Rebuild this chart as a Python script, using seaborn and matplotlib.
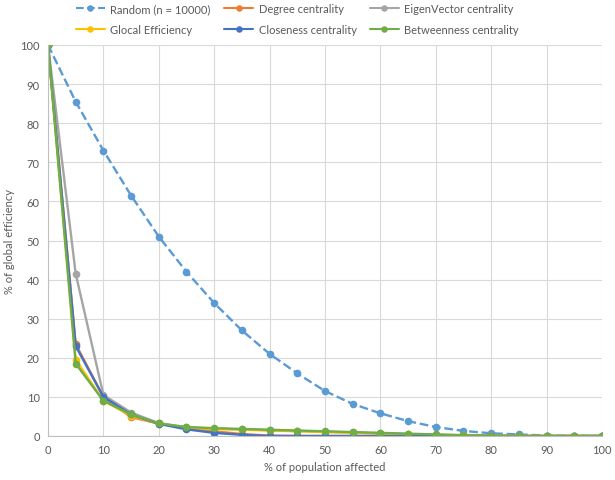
import matplotlib.pyplot as plt
import seaborn as sns
import pandas as pd
import numpy as np

pct_affected = list(range(0, 101, 5))

random_eff = [100, 85.5, 73, 61.5, 51, 42, 34, 27, 21, 16, 11.5, 8.2, 5.8, 3.8, 2.3, 1.3, 0.7, 0.4, 0.1, 0.05, 0]
degree_eff = [100, 23.5, 10, 4.8, 3.2, 2.0, 1.2, 0.5, 0.1, 0, 0, 0, 0, 0, 0, 0, 0, 0, 0, 0, 0]
eigen_eff = [100, 41.5, 10.5, 6, 3.3, 2.2, 1.9, 1.7, 1.5, 1.3, 1.1, 0.9, 0.7, 0.5, 0.3, 0.2, 0.1, 0, 0, 0, 0]
glocal_eff = [100, 19.5, 9, 5.2, 3.1, 2.1, 1.8, 1.6, 1.4, 1.2, 1.0, 0.8, 0.6, 0.4, 0.3, 0.2, 0.1, 0, 0, 0, 0]
closeness_eff = [100, 23, 10, 5.5, 3.1, 1.7, 0.8, 0.3, 0, 0, 0, 0, 0, 0, 0, 0, 0, 0, 0, 0, 0]
betweenness_eff = [100, 18.5, 9, 5.5, 3.2, 2.3, 2.0, 1.8, 1.6, 1.4, 1.2, 1.0, 0.8, 0.6, 0.4, 0.2, 0.1, 0, 0, 0, 0]

series = [
    ("Random (n = 10000)", random_eff, "#5B9BD5", "--"),
    ("Degree centrality", degree_eff, "#ED7D31", "-"),
    ("EigenVector centrality", eigen_eff, "#A5A5A5", "-"),
    ("Glocal Efficiency", glocal_eff, "#FFC000", "-"),
    ("Closeness centrality", closeness_eff, "#4472C4", "-"),
    ("Betweenness centrality", betweenness_eff, "#70AD47", "-"),
]

sns.set_style("white")
plt.rcParams['font.family'] = ['Lato', 'DejaVu Sans']

fig = plt.figure(figsize=(6.15, 4.81), dpi=100)
ax = fig.add_axes([48/615, 44/481, 554/615, 391/481])

for name, vals, col, ls in series:
    df = pd.DataFrame({"x": pct_affected, "y": vals})
    sns.lineplot(data=df, x="x", y="y", ax=ax, color=col, linestyle=ls,
                 marker="o", markersize=5.5, markeredgewidth=0, linewidth=1.7,
                 label=name)

ax.set_xlim(0, 100)
ax.set_ylim(0, 100)
ax.set_xticks(np.arange(0, 101, 10))
ax.set_yticks(np.arange(0, 101, 10))
ax.grid(True, color="#D9D9D9", linewidth=0.8)
ax.set_axisbelow(True)
for side in ["top", "right"]:
    ax.spines[side].set_visible(False)
ax.spines["left"].set_color("#BFBFBF")
ax.spines["bottom"].set_color("#BFBFBF")
ax.tick_params(axis="both", length=0, labelsize=8, colors="#595959", pad=6)

ax.set_xlabel("% of population affected", fontsize=8, color="#595959")
ax.set_ylabel("% of global efficiency", fontsize=8, color="#595959")

# legend in row order (matplotlib fills columns first)
handles, labels = ax.get_legend_handles_labels()
order = [0, 3, 1, 4, 2, 5]
leg = fig.legend([handles[i] for i in order], [labels[i] for i in order],
                 loc="upper left", bbox_to_anchor=(66/615, 1.012), ncol=3, frameon=False,
                 fontsize=8, handlelength=2.6, handletextpad=0.5,
                 columnspacing=1.2, labelspacing=0.85, markerscale=0.85)
ax.get_legend().remove()
for t in leg.get_texts():
    t.set_color("#595959")
for h in leg.legend_handles:
    h.set_linewidth(1.5)

plt.savefig("out.png", dpi=100)
